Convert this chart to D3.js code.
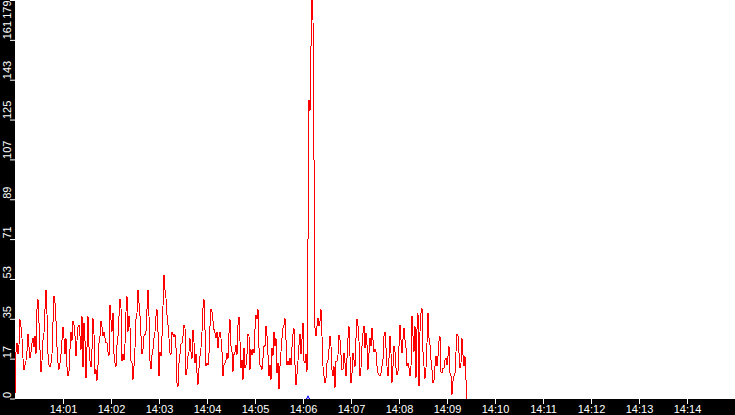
<!DOCTYPE html>
<meta charset="utf-8">
<html>
<head>
<script src="https://d3js.org/d3.v7.min.js"></script>
<style>
  body { margin: 0; background: #fff; }
  svg { display: block; }
  .axis text { fill: #fff; font-family: "Liberation Sans", Arial, sans-serif; font-size: 11px; }
  .axis line { stroke: #fff; }
  .axis path { display: none; }
</style>
</head>
<body>
<script>
// one sample every 1.25 s starting 14:00:00
const startTime = new Date(2020, 0, 1, 14, 0, 0);
const stepSeconds = 1.25;

// red series
const redValues = [
  2,21,25,20,24,35.5,32,27,18,13, 15,17,21,29,23,18,21,25,27,23,
  28,20,40,44.5,34,22,12,17,26,29.5, 40,48.7,38,20,15,14,16,20,34,46,
  43,35,23,16,13,16,20,26,32,27, 20,27,14,10,12,22,30,26,35,33,
  28,19,26,32,33,28,22,37,14,34, 26,9,23,37,23,17,14,22,36,29,
  11,13,8,15,25,28,35,32,28,30, 27,25,
  25,21,19,42,35.5,30,38.5,20,16,14.4, 24,28,37,44.5,40.7,16.7,20,17.4,24.6,39,
  46,30,37,32,17,16,8.4,14.4,22.7,35.5, 38.5,48.7,43,37,28,20,22,28,28.7,30,
  40,48.7,37,16.7,13.2,19.7,22,27,30,37, 40,30,10,21,19,28,41.5,55.5,48.7,45,
  37.7,33,27,20.4,19.7,30,28.7,27.7,28.7,22.7, 7,5.4,16,20,24.6,25,28,32.8,31.7,10.7,
  13,19,21,27,21,18,30.7,25.2,16,20, 11.4,6.2,13.7,
  19,22.7,30,40.7,44.5,31,14.4,16,15,20.4, 32.5,40,39,34.7,31,29.5,27,30,22.7,27.7,
  30,27,21,10,15,16,17.4,20.4,18,29.5, 35.5,23.4,21,12,19.7,21,24,19.7,33,36.7,
  25.7,13.7,17.4,8.4,22.7,13.7,15,19.7,28.7,28, 13,22,19.7,22,20.4,31,37.7,35.8,40,22.7,
  15,14.4,13,18,23.7,23.4,32.5,28,19.7,10, 15,8.4,22.7,19,30,23.4,27,11.4,16,4.2,
  14.4,21,27,31.7,33,36,26.5,15,16.7,15,
  18,15,23,29,31.6,15,6,11,17,24, 29,20,26.6,34,16.7,16,20,12,71,134,
  129,158,180,170,107,
  31.7,28,32.5,36,32.5,34.7,40,28,14.4,10, 7,9,16,17.4,22,28,23.4,13,10,14.4,
  4.7,16.7,16.7,19.7,28.7,26.5,19.7,13,13,20.4, 16,10,18,27,32.5,19,7,11.4,20.4,17.4,
  14.4,27,35.5,32.5,25.7,10,13.7,23.4,29.5,32.5, 22.7,29.5,24,13,20.4,27,23.4,31.7,26.5,21,
  22,21,14.4,11.4,10.7,10,11.4,14.4,17.4,28,
  30,22.7,14.4,10,18,28,20.4,7,14.4,23.4, 21,13.7,10.7,12,23.4,33,26.5,20.4,26.5,31.7,
  26.5,22.7,14.4,16,13.7,10,14.4,37,28,21, 32.5,9,31,38.5,5.4,30,38.5,40.7,21,14.4,
  9,13.7,25,38.5,27,24,17.4,13,7,8.4, 14.4,19,14.4,19,25.7,28,12,11.4,13.7,13.7,
  17.4,18,15,19,23.4,11.4,10,1.7,7.7,10, 11.4,21,28.7,28,20.4,13.7,16,27,19.7,14.4,
  19,8.4,0
];

// blue series: flat at zero except a small blip at the spike
const blueStartIndex = 291;
const blueValues = [0, 0, 1.2, 0, 0];

const yTicks = [0, 17.9, 35.8, 53.7, 71.6, 89.5, 107.4, 125.3, 143.2, 161.1, 179];
const xTickMinutes = [1,2,3,4,5,6,7,8,9,10,11,12,13,14];

const width = 735, height = 415;
const left = 15, bottom = 399;

const svg = d3.select("body").append("svg")
  .attr("width", width)
  .attr("height", height);

const x = d3.scaleTime()
  .domain([startTime, d3.timeMinute.offset(startTime, 15)])
  .range([left, width]);

const y = d3.scaleLinear()
  .domain([0, 179])
  .range([398.5, 0]);

const timeOf = i => new Date(startTime.getTime() + i * stepSeconds * 1000);

svg.append("clipPath").attr("id", "plot")
  .append("rect").attr("x", left).attr("y", 0).attr("width", width - left).attr("height", bottom);

const line = d3.line()
  .x(d => x(d.t))
  .y(d => y(d.v));

const red = redValues.map((v, i) => ({t: timeOf(i), v: v}));
const blue = blueValues.map((v, i) => ({t: timeOf(blueStartIndex + i), v: v}));

const plot = svg.append("g").attr("clip-path", "url(#plot)");

plot.append("path")
  .datum(red)
  .attr("d", line)
  .attr("fill", "none")
  .attr("stroke", "#ff0000")
  .attr("stroke-width", 1)
  .attr("shape-rendering", "crispEdges");

plot.append("path")
  .datum(blue)
  .attr("d", line)
  .attr("fill", "none")
  .attr("stroke", "#0000ff")
  .attr("stroke-width", 1);

// black axis strips
svg.append("rect").attr("x", 0).attr("y", 0).attr("width", left).attr("height", height).attr("fill", "#000");
svg.append("rect").attr("x", 0).attr("y", bottom).attr("width", width).attr("height", height - bottom).attr("fill", "#000");

const xAxis = d3.axisBottom(x)
  .tickValues(xTickMinutes.map(m => d3.timeMinute.offset(startTime, m)))
  .tickFormat(d3.timeFormat("%H:%M"))
  .tickSize(5)
  .tickPadding(1.5);

svg.append("g")
  .attr("class", "axis")
  .attr("transform", `translate(0,${bottom})`)
  .call(xAxis)
  .attr("font-family", null)
  .attr("font-size", null);

const yAxis = d3.axisLeft(y)
  .tickValues(yTicks)
  .tickFormat(d => Math.floor(d))
  .tickSize(5);

const ya = svg.append("g")
  .attr("class", "axis")
  .attr("transform", `translate(${left},0)`)
  .call(yAxis)
  .attr("font-family", null)
  .attr("font-size", null);

ya.selectAll(".tick text")
  .attr("x", null)
  .attr("dy", null)
  .attr("text-anchor", d => d === 179 ? "end" : "start")
  .attr("transform", d => d === 179 ? "translate(-4,0) rotate(-90)" : "translate(-4,-1) rotate(-90)");
</script>
</body>
</html>
